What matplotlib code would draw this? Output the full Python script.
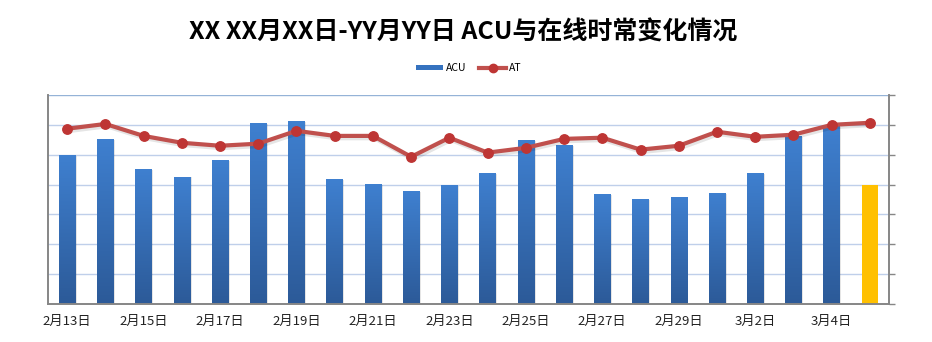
import matplotlib
matplotlib.use("Agg")
import matplotlib.pyplot as plt
import numpy as np
from matplotlib.lines import Line2D
from matplotlib.patches import Patch
from matplotlib.colors import LinearSegmentedColormap

plt.rcParams['font.family'] = ['Noto Sans CJK SC', 'DejaVu Sans']

categories = ["2月13日", "2月14日", "2月15日", "2月16日", "2月17日", "2月18日", "2月19日",
              "2月20日", "2月21日", "2月22日", "2月23日", "2月24日", "2月25日", "2月26日",
              "2月27日", "2月28日", "2月29日", "3月1日", "3月2日", "3月3日", "3月4日", "3月5日"]
acu = [5.0, 5.53, 4.53, 4.27, 4.83, 6.07, 6.13, 4.17, 4.03, 3.77, 3.97, 4.4,
       5.5, 5.33, 3.67, 3.53, 3.57, 3.73, 4.4, 5.63, 5.97, 4.0]
at = [5.87, 6.03, 5.63, 5.4, 5.3, 5.37, 5.8, 5.63, 5.63, 4.93, 5.57, 5.07,
      5.23, 5.53, 5.57, 5.17, 5.3, 5.77, 5.6, 5.67, 6.0, 6.07]
highlight_index = 21

fig = plt.figure(figsize=(9.32, 3.42), dpi=100)
ax = fig.add_axes([48/932, 38/342, (889-48)/932, (304-95)/342])
ax2 = ax.twinx()

x = np.arange(len(categories))
ymax = 7

cmap = LinearSegmentedColormap.from_list("g", ["#2C5A98", "#3F80D0"])
grad = np.linspace(0, 1, 256).reshape(-1, 1)
bw = 0.43
bars = ax.bar(x, acu, width=bw, color="none", zorder=2)
for i, b in enumerate(bars):
    if i == highlight_index:
        b.set_facecolor("#FFC000")
        continue
    ax.bar(x[i] + 0.04, acu[i], width=bw, bottom=-0.03, color="#000000", alpha=0.10, zorder=1.5)
    im = ax.imshow(grad, cmap=cmap, aspect="auto",
                   extent=[x[i] - bw/2, x[i] + bw/2, 0, acu[i]], origin="lower", zorder=2)
    im.set_clip_path(b)
ax.set_xlim(-0.5, len(categories) - 0.5)
ax.set_ylim(0, ymax)
ax2.set_ylim(0, ymax)

for g in range(1, ymax + 1):
    ax.axhline(g, color="#95B3D7" if g == ymax else "#BFCFEA", lw=1.0, zorder=0.5)

shadow = matplotlib.transforms.ScaledTranslation(1.5/100, -2/100, fig.dpi_scale_trans)
ax2.plot(x, at, color="#000000", lw=3.5, alpha=0.10, zorder=2.5,
         transform=ax2.transData + shadow)
ax2.plot(x, at, color="#C0504D", lw=3.0, marker="o", markersize=6.8,
         markerfacecolor="#BE3534", markeredgecolor="#BE3534", zorder=3)

ax.set_xticks(x[::2])
ax.set_xticklabels(categories[::2], fontsize=9.5, color="#222222")
ax.tick_params(axis="x", length=0, pad=8)
ax.set_yticks([])
ax2.set_yticks(range(0, ymax + 1))
ax2.set_yticklabels([])
ax2.tick_params(axis="y", direction="out", length=4, color="#868686", width=1)

for a in (ax, ax2):
    a.spines["top"].set_visible(False)
    for s in ("left", "bottom", "right"):
        a.spines[s].set_color("#868686")
        a.spines[s].set_linewidth(1.2)
ax.set_zorder(ax2.get_zorder() - 1)
ax2.patch.set_visible(False)

fig.text(0.497, 0.906, "XX XX月XX日-YY月YY日 ACU与在线时常变化情况", ha="center", va="center",
         fontsize=18, fontweight="bold", color="#000000")

handles = [Patch(facecolor="#3572BF", edgecolor="none"),
           Line2D([0], [0], color="#C0504D", lw=3.0, marker="o", markersize=6,
                  markerfacecolor="#BE3534", markeredgecolor="#BE3534")]
fig.legend(handles, ["ACU", "AT"], loc="center", bbox_to_anchor=(0.503, 0.80), ncol=2,
           frameon=False, fontsize=7.5, handlelength=2.6, handleheight=0.4,
           columnspacing=1.2, handletextpad=0.3)

fig.savefig("out.png", dpi=100)
